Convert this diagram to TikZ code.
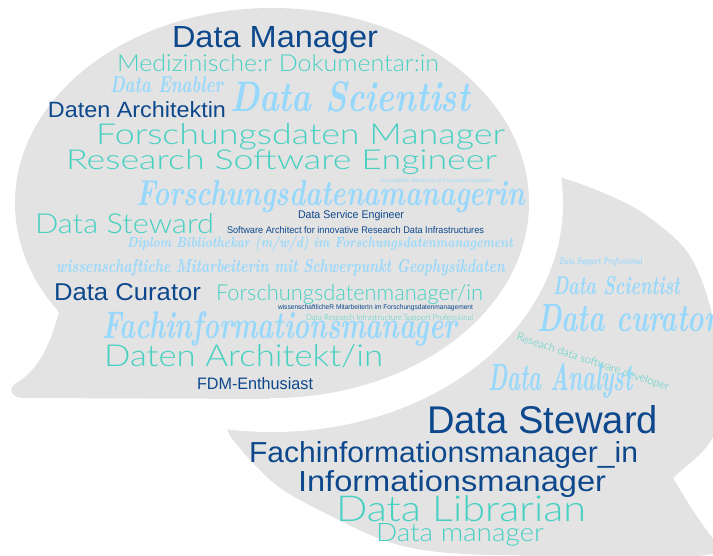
\documentclass[tikz,border=0pt]{standalone}
\usepackage{fontspec}
\usepackage{graphicx}
\newfontfamily\bluefont{Liberation Sans}
\newfontfamily\tealfont{Lato Light}
\newcommand\wcscript{\normalfont\bfseries\itshape}
\newcommand\fitto[3]{\resizebox{#1pt}{#2pt}{#3}}
\definecolor{bubgray}{RGB}{227,227,227}
\definecolor{wcdark}{RGB}{14,72,140}
\definecolor{wcteal}{RGB}{70,208,194}
\definecolor{wcsky}{RGB}{150,216,252}
\tikzset{
  bub/.style={fill=bubgray},
  wc/.style={inner sep=0pt, outer sep=0pt, anchor=base west},
  dk/.style={wc, text=wcdark, font=\bluefont},
  tl/.style={wc, text=wcteal, font=\tealfont},
  sc/.style={wc, text=wcsky, font=\wcscript},
}
\begin{document}
\begin{tikzpicture}[x=1pt,y=-1pt]
\useasboundingbox (0,0) rectangle (713,556);
\begin{scope}
\clip (0,0) rectangle (713,556);
% second bubble (lower right)
\fill[bub] plot[smooth, tension=0.6] coordinates {(230,436) (253,463) (283,490) (333,517) (383,540) (430,551) (495,555) (560,552) (620,525) (673,478) (713,437) (722,380) (713,317) (690,256) (650,218) (613,197) (563,178) (520,167) (480,162)} -- (300,250) -- (215,400) -- cycle;
\fill[bub] (640,480) -- (673,478) .. controls (688,503) and (703,528) .. (724,552) -- (700,556) -- (520,558) -- (520,540) -- cycle;
% first bubble (upper left) with white margin
\draw[white, line width=68pt] (272,203) ellipse [x radius=257, y radius=195];
\fill[bub] (272,203) ellipse [x radius=257, y radius=195];
\fill[bub] (60,308) .. controls (52,340) and (40,370) .. (16,383) .. controls (8,388) and (10,398) .. (24,398) -- (270,399) -- (200,300) -- cycle;

% words, first bubble
\node[dk] (w1) at (172,48) {\fitto{206}{21}{Data Manager}};
\node[tl] (w2) at (117,72) {\fitto{322}{17}{Medizinische:r Dokumentar:in}};
\node[sc] (w3) at (110,93) {\fitto{113}{16}{Data Enabler}};
\node[sc] (w4) at (230,112) {\fitto{240}{30}{Data Scientist}};
\node[dk] (w5) at (48,118) {\fitto{178}{16}{Daten Architektin}};
\node[tl] (w6) at (96,145) {\fitto{409}{21}{Forschungsdaten Manager}};
\node[tl] (w7) at (66,170) {\fitto{431}{20}{Research Software Engineer}};
\node[sc] (w8) at (136,206) {\fitto{389}{25}{Forschungsdatenamanagerin}};
\node[sc] (w9) at (380,183) {\fitto{113}{4}{wissenschaftliche Mitarbeiterin mit Schwerpunkt Geophysikdaten}};
\node[tl] (w10) at (35,234) {\fitto{179}{20}{Data Steward}};
\node[dk] (w11) at (298,219) {\fitto{106}{8}{Data Service Engineer}};
\node[dk] (w12) at (227,234) {\fitto{257}{7}{Software Architect for innovative Research Data Infrastructures}};
\node[sc] (w13) at (127,248) {\fitto{386}{11}{Diplom Bibliothekar (m/w/d) im Forschungsdatenmanagement}};
\node[sc] (w14) at (56,273) {\fitto{449}{13}{wissenschaftiche Mitarbeiterin mit Schwerpunkt Geophysikdaten}};
\node[dk] (w15) at (54,301) {\fitto{147}{17}{Data Curator}};
\node[tl] (w16) at (216,301) {\fitto{267}{16}{Forschungsdatenmanager/in}};
\node[dk] (w17) at (278,310) {\fitto{195}{5}{wissenschaftlicheR MitarbeiterIn im Forschungsdatenmanagement}};
\node[tl] (w18) at (306,321) {\fitto{167}{6}{Data Research Infrastructure Support Professional}};
\node[sc] (w19) at (102,339) {\fitto{355}{27}{Fachinformationsmanager}};
\node[tl] (w20) at (104,367) {\fitto{279}{22}{Daten Architekt/in}};
\node[dk] (w21) at (197,389) {\fitto{116}{12}{FDM-Enthusiast}};

% words, second bubble
\node[sc] (w22) at (559,265) {\fitto{83}{7}{Data Support Professional}};
\node[sc] (w23) at (553,295) {\fitto{127}{18}{Data Scientist}};
\node[sc] (w24) at (537,331) {\fitto{181}{27}{Data curator}};
\node[tl, rotate=-18.4] (w25) at (516,340) {\fitto{160}{8}{Reseach data software developer}};
\node[sc] (w26) at (488,391) {\fitto{145}{27}{Data Analyst}};
\node[dk] (w27) at (427,433) {\fitto{231}{28}{Data Steward}};
\node[dk] (w28) at (249,462) {\fitto{389}{21}{Fachinformationsmanager\_in}};
\node[dk] (w29) at (298,491) {\fitto{308}{21}{Informationsmanager}};
\node[tl] (w30) at (336,521) {\fitto{250}{26}{Data Librarian}};
\node[tl] (w31) at (376,541) {\fitto{168}{18}{Data manager}};
\end{scope}
\end{tikzpicture}
\end{document}
